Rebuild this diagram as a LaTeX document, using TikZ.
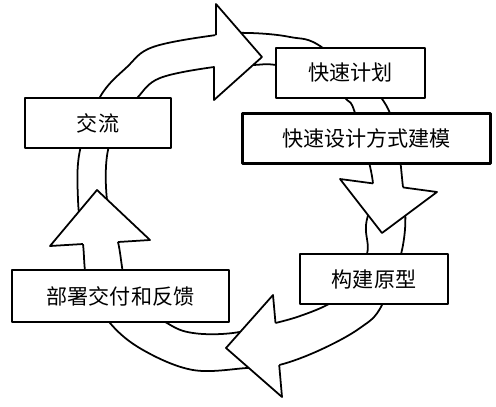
\documentclass[tikz,border=0pt]{standalone}
\usepackage{fontspec}
\newfontfamily\cjk{Noto Sans CJK SC}
\begin{document}
\begin{tikzpicture}[x=0.03cm,y=-0.03cm,line width=1.5pt,line join=round]
        \tikzstyle{stage}=[draw,fill=white,line width=1.8pt,inner sep=0pt,minimum height=1.5cm,font=\cjk\fontsize{18pt}{18pt}\selectfont]
        \useasboundingbox (0,0) rectangle (496,406);
        % ring, outer and inner edge
        \draw plot[smooth cycle,tension=0.6] coordinates {(78,200) (80,150) (100,97) (127,67) (153,47) (216,35) (250,33) (290,37) (323,48) (386,105) (403,187) (403,245) (382,305) (360,328) (320,350) (279.2,365) (247,368) (193,370) (143,350) (110,323) (88,285) (83,244)};
        \draw plot[smooth cycle,tension=0.6] coordinates {(107,200) (108,150) (125,115) (138,97) (160,78) (214,67) (253,65) (276,65) (320,75) (345,98) (355,113) (373,183.4) (366,225) (367,254) (350,290) (327,305) (300,316) (275.5,323) (233,333) (193,333) (167,323) (130,295) (118,242)};
        % arrow heads
        \fill[white] (216,4) -- (262,57) -- (214,100) -- cycle;
        \draw (216,35) -- (216,4) -- (262,57) -- (214,100) -- (214,67);
        \fill[white] (340,179) -- (382,233) -- (437,192) -- cycle;
        \draw (373,183.4) -- (340,179) -- (382,233) -- (437,192) -- (403,187.4);
        \fill[white] (273,295) -- (226,348) -- (282,397) -- cycle;
        \draw (275.5,323) -- (273,295) -- (226,348) -- (282,397) -- (279.2,365);
        \fill[white] (50,246) -- (97,190) -- (150,240) -- cycle;
        \draw (83,244) -- (50,246) -- (97,190) -- (150,240) -- (118,242);
        % stages
        \node[stage,minimum width=4.47cm] (plan) at (350.5,73) {快速计划};
        \node[stage,minimum width=7.44cm] (model) at (366.5,138.5) {快速设计方式建模};
        \node[stage,minimum width=4.44cm] (proto) at (374,279) {构建原型};
        \node[stage,minimum width=6.51cm,minimum height=1.56cm] (deploy) at (120.5,296) {部署交付和反馈};
        \node[stage,minimum width=4.38cm] (talk) at (98,123) {交流};
\end{tikzpicture}
\end{document}
